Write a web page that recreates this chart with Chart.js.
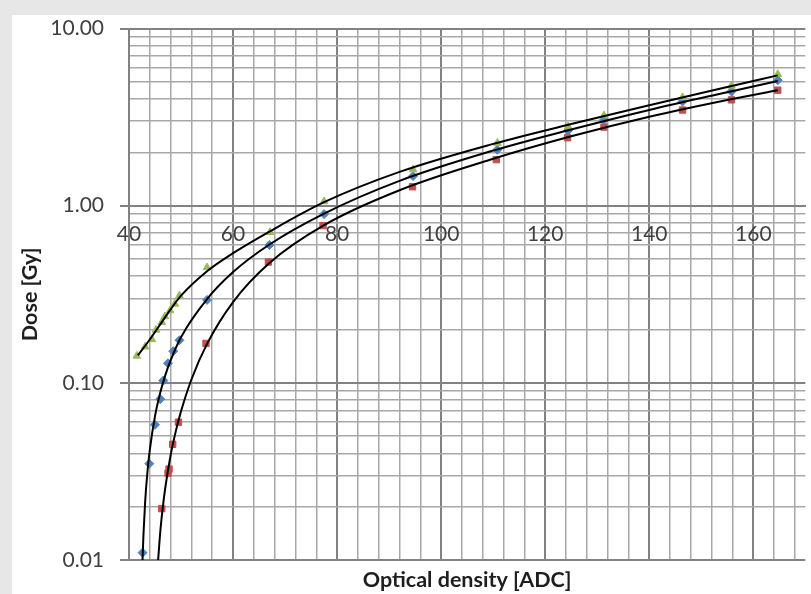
<!DOCTYPE html>
<html>
<head>
<meta charset="utf-8">
<script src="https://cdn.jsdelivr.net/npm/chart.js@4.4.1/dist/chart.umd.min.js"></script>
<style>
  html, body { margin: 0; padding: 0; width: 811px; height: 594px; overflow: hidden; background: #e7e7e7; }
  #panel { position: absolute; left: 12px; top: 15px; right: 0; bottom: 0; background: #ffffff; }
  #wrap { position: absolute; left: 0; top: 0; width: 811px; height: 594px; }
</style>
</head>
<body>
<div id="panel"></div>
<div id="wrap"><canvas id="chart" width="811" height="594"></canvas></div>
<script>
// Measured calibration points: optical density (ADC) vs. dose (Gy)
const greenOD   = [41.5, 43.1, 44.4, 45.2, 46.3, 46.9, 47.9, 48.8, 49.7, 55.0, 67.1, 77.5, 94.6, 110.8, 124.4, 131.3, 146.4, 155.8, 164.7];
const greenDose = [0.142, 0.160, 0.176, 0.199, 0.220, 0.237, 0.256, 0.279, 0.311, 0.448, 0.709, 1.057, 1.60, 2.26, 2.80, 3.23, 4.09, 4.75, 5.52];

const blueOD   = [42.6, 43.9, 45.0, 46.0, 46.6, 47.5, 48.5, 49.7, 55.0, 67.0, 77.5, 94.6, 110.8, 124.4, 131.3, 146.4, 155.8, 164.7];
const blueDose = [0.011, 0.035, 0.058, 0.081, 0.103, 0.129, 0.151, 0.174, 0.294, 0.600, 0.897, 1.47, 2.07, 2.66, 3.05, 3.88, 4.42, 5.11];

const redOD   = [46.3, 47.5, 47.7, 48.4, 49.5, 54.8, 66.8, 77.3, 94.5, 110.6, 124.3, 131.3, 146.4, 155.8, 164.7];
const redDose = [0.0195, 0.0309, 0.0326, 0.045, 0.060, 0.167, 0.481, 0.772, 1.28, 1.82, 2.42, 2.78, 3.47, 3.96, 4.49];

// Fitted calibration curves
const greenFitOD   = [41.7, 44, 46, 48, 50, 55, 60, 67, 77.5, 92, 110, 125, 140, 155, 164.7];
const greenFitDose = [0.1429, 0.1758, 0.2138, 0.2600, 0.3105, 0.4266, 0.5395, 0.7145, 1.047, 1.552, 2.234, 2.891, 3.690, 4.677, 5.445];

const blueFitOD   = [42.6, 42.8, 43.1, 43.5, 44, 45, 46, 47, 48, 50, 55, 60, 67, 77.5, 92, 110, 125, 140, 155, 164.7];
const blueFitDose = [0.0100, 0.0143, 0.0212, 0.0304, 0.0419, 0.0649, 0.0879, 0.111, 0.134, 0.181, 0.297, 0.422, 0.604, 0.903, 1.382, 2.048, 2.693, 3.473, 4.373, 5.06];

const redFitOD   = [45.6, 46, 46.5, 47, 48, 49, 50, 52, 55, 60, 67, 77.5, 92, 110, 125, 140, 155, 164.7];
const redFitDose = [0.0100, 0.0143, 0.0199, 0.0259, 0.0390, 0.0534, 0.0691, 0.1045, 0.166, 0.286, 0.475, 0.777, 1.223, 1.840, 2.465, 3.180, 3.955, 4.49];

// Axis ticks
const xTickLabels = [40, 60, 80, 100, 120, 140, 160];
const xMinorStep = 4;
const yDecades = [0.01, 0.1, 1, 10];
const yTickLabels = ['0.01', '0.10', '1.00', '10.00'];
const yMantissas = [2, 3, 4, 5, 6, 7, 8, 9];

const toPoints = (xs, ys) => xs.map((x, i) => ({ x: x, y: ys[i] }));

const xGridValues = [];
for (let v = xTickLabels[0]; v < 170; v += xMinorStep) xGridValues.push(v);

const yGridValues = [];
yDecades.forEach((d, i) => {
  yGridValues.push(d);
  if (i < yDecades.length - 1) yMantissas.forEach(m => yGridValues.push(d * m));
});

const decadeIndex = v => yDecades.findIndex(d => Math.abs(v - d) / d < 1e-6);
const isXMajor = v => xTickLabels.includes(v);

const MAJOR = '#828282';
const MINOR = '#a8a8a8';
const FONT = 'Lato, "Open Sans", sans-serif';

const fitStyle = {
  showLine: true, pointRadius: 0, pointHoverRadius: 0,
  borderColor: '#000000', borderWidth: 2, cubicInterpolationMode: 'monotone', fill: false
};

new Chart(document.getElementById('chart'), {
  type: 'scatter',
  data: {
    datasets: [
      Object.assign({ label: 'fit 1', data: toPoints(greenFitOD, greenFitDose) }, fitStyle),
      Object.assign({ label: 'fit 2', data: toPoints(blueFitOD, blueFitDose) }, fitStyle),
      Object.assign({ label: 'fit 3', data: toPoints(redFitOD, redFitDose) }, fitStyle),
      { label: 'series 1', data: toPoints(greenOD, greenDose), pointStyle: 'triangle', pointRadius: 4.5,
        backgroundColor: '#9bbb59', borderColor: '#9bbb59', borderWidth: 1, showLine: false },
      { label: 'series 2', data: toPoints(blueOD, blueDose), pointStyle: 'rectRot', pointRadius: 4.5,
        backgroundColor: '#4f81bd', borderColor: '#4f81bd', borderWidth: 1, showLine: false },
      { label: 'series 3', data: toPoints(redOD, redDose), pointStyle: 'rect', pointRadius: 4.5,
        backgroundColor: '#c0504d', borderColor: '#c0504d', borderWidth: 1, showLine: false }
    ]
  },
  options: {
    responsive: false,
    animation: false,
    events: [],
    layout: { padding: { top: 24, right: 3, bottom: 0, left: 0 } },
    plugins: {
      legend: { display: false },
      tooltip: { enabled: false },
      title: {
        display: true, position: 'bottom', fullSize: false,
        text: 'Optical density [ADC]',
        color: '#1e1e1e',
        font: { family: FONT, size: 21.5, weight: 'bold' },
        padding: { top: 7, bottom: 1.2 }
      }
    },
    scales: {
      x: {
        type: 'linear', min: 40, max: 170,
        position: { y: 1 },
        afterBuildTicks: s => { s.ticks = xGridValues.map(v => ({ value: v })); },
        ticks: {
          autoSkip: false, maxRotation: 0, padding: 16,
          color: '#404040', font: { family: FONT, size: 21 },
          callback: v => isXMajor(v) ? String(v) : ''
        },
        grid: {
          drawTicks: false,
          color: c => isXMajor(c.tick.value) ? MAJOR : MINOR,
          lineWidth: c => isXMajor(c.tick.value) ? 2 : 1.5
        },
        border: { display: true, color: MAJOR, width: 2 }
      },
      y: {
        type: 'logarithmic', min: 0.01, max: 10,
        afterBuildTicks: s => { s.ticks = yGridValues.map(v => ({ value: v })); },
        afterFit: s => { s.width = 129; },
        ticks: {
          autoSkip: false, padding: 16,
          color: '#404040', font: { family: FONT, size: 21 },
          callback: v => { const i = decadeIndex(v); return i >= 0 ? yTickLabels[i] : ''; }
        },
        grid: {
          tickLength: 9,
          color: c => decadeIndex(c.tick.value) >= 0 ? MAJOR : MINOR,
          tickColor: c => decadeIndex(c.tick.value) >= 0 ? MAJOR : 'rgba(0,0,0,0)',
          lineWidth: c => decadeIndex(c.tick.value) >= 0 ? 2 : 1.5
        },
        border: { display: true, color: MAJOR, width: 2 },
        title: {
          display: true, text: 'Dose [Gy]', color: '#1e1e1e',
          font: { family: FONT, size: 21.5, weight: 'bold' },
          padding: 17
        }
      }
    }
  }
});
</script>
</body>
</html>
